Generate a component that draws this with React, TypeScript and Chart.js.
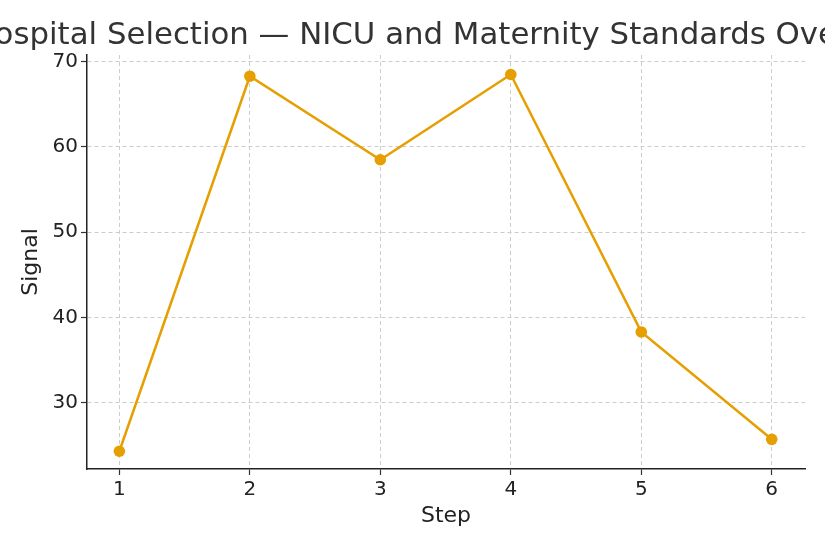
import React, { useEffect, useRef } from "react";
import { Chart, registerables } from "chart.js";

Chart.register(...registerables);

const TITLE = "Hospital Selection — NICU and Maternity Standards Overview";
const X_LABEL = "Step";
const Y_LABEL = "Signal";
const steps = [1, 2, 3, 4, 5, 6];
const signal = [24.3, 68.3, 58.5, 68.5, 38.3, 25.7];
const xTicks = [1, 2, 3, 4, 5, 6];
const yTicks = [30, 40, 50, 60, 70];

const FONT = "'DejaVu Sans', sans-serif";

const titlePlugin = {
  id: "centeredTitle",
  afterDraw(chart: any) {
    const { ctx, chartArea } = chart;
    ctx.save();
    ctx.font = `30.8px ${FONT}`;
    ctx.fillStyle = "#333333";
    ctx.textAlign = "center";
    ctx.textBaseline = "alphabetic";
    ctx.fillText(TITLE, (chartArea.left + chartArea.right) / 2, 44);
    ctx.restore();
  },
};

const gridOpts: any = {
  color: "#cccccc",
  lineWidth: 1,
  tickColor: "#333333",
  tickLength: 6,
  tickWidth: 1.2,
  tickBorderDash: [],
};

export default function App() {
  const ref = useRef<HTMLCanvasElement>(null);
  useEffect(() => {
    const prevMargin = document.body.style.margin;
    document.body.style.margin = "0";
    const chart = new Chart(ref.current!, {
      type: "line",
      data: {
        datasets: [
          {
            data: steps.map((s, i) => ({ x: s, y: signal[i] })),
            borderColor: "#E69F00",
            backgroundColor: "#E69F00",
            borderWidth: 2.5,
            pointRadius: 5.8,
            pointBorderWidth: 0,
            pointBackgroundColor: "#E69F00",
            tension: 0,
            clip: false,
          } as any,
        ],
      },
      options: {
        animation: false,
        responsive: false,
        maintainAspectRatio: false,
        layout: { padding: { top: 55, right: 20, bottom: 0, left: 0 } },
        plugins: { legend: { display: false }, tooltip: { enabled: false }, title: { display: false } },
        scales: {
          x: {
            type: "linear",
            min: 0.752,
            max: 6.255,
            afterBuildTicks: (s: any) => {
              s.ticks = xTicks.map((v) => ({ value: v }));
            },
            afterFit: (s: any) => {
              s.height = 81;
            },
            ticks: {
              font: { family: FONT, size: 20 },
              color: "#222222",
              padding: 3,
              maxRotation: 0,
              autoSkip: false,
            },
            grid: gridOpts,
            border: { display: true, color: "#222222", width: 1.5, dash: [4, 3] } as any,
            title: {
              display: true,
              text: X_LABEL,
              font: { family: FONT, size: 22 },
              color: "#222222",
              padding: { top: 0, bottom: 21 },
            },
          },
          y: {
            type: "linear",
            min: 22.22,
            max: 70.79,
            afterBuildTicks: (s: any) => {
              s.ticks = yTicks.map((v) => ({ value: v }));
            },
            afterFit: (s: any) => {
              s.width = 87;
            },
            ticks: {
              font: { family: FONT, size: 20 },
              color: "#222222",
              padding: 3,
            },
            grid: gridOpts,
            border: { display: true, color: "#222222", width: 1.5, dash: [4, 3] } as any,
            title: {
              display: true,
              text: Y_LABEL,
              font: { family: FONT, size: 22 },
              color: "#222222",
              padding: { top: 18, bottom: 0 },
            },
          },
        },
      },
      plugins: [titlePlugin],
    });
    return () => {
      chart.destroy();
      document.body.style.margin = prevMargin;
    };
  }, []);
  return (
    <div style={{ width: 825, height: 550, background: "#ffffff" }}>
      <canvas ref={ref} width={825} height={550} style={{ display: "block" }} />
    </div>
  );
}
